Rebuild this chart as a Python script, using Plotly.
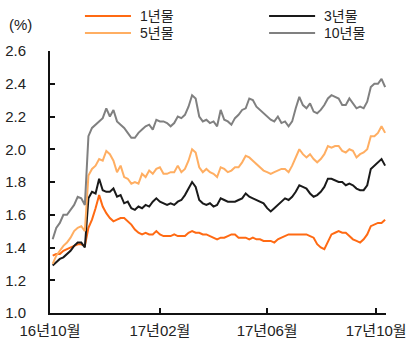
import pandas as pd
import plotly.graph_objects as go

# Observation dates: every 4 days from early Oct 2016 to mid Oct 2017
dates = pd.date_range("2016-10-04", periods=94, freq="4D")

# Treasury yields (%)
y1 = [1.35, 1.36, 1.36, 1.38, 1.39, 1.40, 1.41, 1.42, 1.42, 1.41,
      1.52, 1.57, 1.64, 1.72, 1.65, 1.61, 1.58, 1.56, 1.57, 1.58,
      1.58, 1.56, 1.54, 1.51, 1.49, 1.48, 1.49, 1.48, 1.48, 1.50,
      1.48, 1.47, 1.47, 1.47, 1.48, 1.47, 1.47, 1.47, 1.49, 1.50,
      1.49, 1.49, 1.48, 1.48, 1.47, 1.46, 1.45, 1.46, 1.46, 1.47,
      1.48, 1.48, 1.46, 1.46, 1.46, 1.45, 1.46, 1.45, 1.45, 1.44,
      1.44, 1.44, 1.43, 1.45, 1.46, 1.47, 1.48, 1.48, 1.48, 1.48,
      1.48, 1.48, 1.47, 1.46, 1.42, 1.40, 1.39, 1.44, 1.48, 1.49,
      1.50, 1.49, 1.49, 1.47, 1.45, 1.44, 1.43, 1.45, 1.48, 1.53,
      1.54, 1.55, 1.55, 1.57]

y3 = [1.29, 1.31, 1.33, 1.34, 1.36, 1.38, 1.41, 1.43, 1.43, 1.40,
      1.70, 1.74, 1.73, 1.82, 1.75, 1.74, 1.74, 1.76, 1.71, 1.72,
      1.67, 1.68, 1.64, 1.63, 1.65, 1.64, 1.66, 1.65, 1.68, 1.70,
      1.68, 1.67, 1.66, 1.67, 1.66, 1.68, 1.69, 1.72, 1.76, 1.80,
      1.77, 1.69, 1.67, 1.66, 1.67, 1.65, 1.66, 1.70, 1.69, 1.68,
      1.68, 1.68, 1.69, 1.70, 1.73, 1.71, 1.70, 1.69, 1.68, 1.67,
      1.64, 1.62, 1.64, 1.66, 1.68, 1.70, 1.69, 1.71, 1.74, 1.78,
      1.77, 1.76, 1.73, 1.71, 1.72, 1.74, 1.77, 1.82, 1.82, 1.81,
      1.80, 1.80, 1.78, 1.79, 1.78, 1.76, 1.75, 1.75, 1.78, 1.88,
      1.90, 1.92, 1.94, 1.90]

y5 = [1.30, 1.35, 1.38, 1.41, 1.43, 1.46, 1.50, 1.52, 1.53, 1.50,
      1.84, 1.88, 1.90, 1.94, 1.93, 1.99, 1.97, 1.93, 1.86, 1.90,
      1.83, 1.82, 1.79, 1.80, 1.79, 1.85, 1.83, 1.87, 1.85, 1.88,
      1.89, 1.85, 1.85, 1.86, 1.86, 1.90, 1.86, 1.88, 1.93, 2.00,
      1.98, 1.89, 1.86, 1.88, 1.86, 1.85, 1.83, 1.89, 1.88, 1.86,
      1.87, 1.89, 1.89, 1.92, 1.96, 1.95, 1.93, 1.91, 1.89, 1.87,
      1.86, 1.85, 1.86, 1.87, 1.88, 1.88, 1.86, 1.90, 1.95, 2.00,
      1.97, 1.95, 1.97, 1.94, 1.92, 1.94, 1.97, 2.02, 2.01, 2.02,
      2.02, 1.99, 1.98, 2.00, 1.99, 1.95, 1.97, 1.98, 2.00, 2.08,
      2.08, 2.10, 2.14, 2.10]

y10 = [1.45, 1.52, 1.55, 1.60, 1.60, 1.63, 1.66, 1.71, 1.70, 1.66,
       2.08, 2.13, 2.15, 2.17, 2.19, 2.25, 2.20, 2.24, 2.17, 2.15,
       2.13, 2.10, 2.07, 2.07, 2.10, 2.12, 2.14, 2.15, 2.12, 2.18,
       2.17, 2.17, 2.16, 2.14, 2.16, 2.20, 2.19, 2.21, 2.26, 2.33,
       2.31, 2.20, 2.17, 2.18, 2.16, 2.17, 2.14, 2.24, 2.18, 2.17,
       2.15, 2.19, 2.21, 2.24, 2.25, 2.31, 2.30, 2.26, 2.24, 2.22,
       2.20, 2.18, 2.17, 2.20, 2.16, 2.17, 2.14, 2.17, 2.25, 2.32,
       2.27, 2.25, 2.28, 2.23, 2.22, 2.24, 2.27, 2.31, 2.33, 2.32,
       2.31, 2.27, 2.27, 2.31, 2.28, 2.25, 2.26, 2.25, 2.29, 2.38,
       2.40, 2.40, 2.43, 2.38]

series_names = ["1년물", "3년물", "5년물", "10년물"]
series_values = [y1, y3, y5, y10]
series_colors = ["#FF6A13", "#1A1A1A", "#FFAE62", "#808080"]

tick_dates = ["2016-10-01", "2017-02-01", "2017-06-01", "2017-10-01"]
tick_text = ["16년10월", "17년02월", "17년06월", "17년10월"]
y_ticks = [1.0, 1.2, 1.4, 1.6, 1.8, 2.0, 2.2, 2.4, 2.6]

FONT = "Liberation Sans, Arial, Noto Sans CJK KR, sans-serif"
TEXT_COLOR = "#222222"

fig = go.Figure()
for name, vals, color in zip(series_names, series_values, series_colors):
    fig.add_trace(go.Scatter(
        x=dates, y=vals, name=name, mode="lines",
        line=dict(color=color, width=2),
    ))

# Two-column key above the plot: (column, row) slot for each series
key_slots = [(0, 0), (1, 0), (0, 1), (1, 1)]
key_col_x = [0.104, 0.652]      # line-sample start, paper fraction
key_row_y = [1.134, 1.069]      # row centre, paper fraction
key_line_len = 0.137
key_gap = 0.021

shapes = []
annotations = []
for (col, row), name, color in zip(key_slots, series_names, series_colors):
    x0 = key_col_x[col]
    yy = key_row_y[row]
    shapes.append(dict(
        type="line", xref="paper", yref="paper",
        x0=x0, x1=x0 + key_line_len, y0=yy, y1=yy,
        line=dict(color=color, width=2),
    ))
    annotations.append(dict(
        text=name, xref="paper", yref="paper",
        x=x0 + key_line_len + key_gap, y=yy,
        xanchor="left", yanchor="middle", showarrow=False,
        font=dict(size=14, color=TEXT_COLOR),
    ))

annotations.append(dict(
    text="(%)", xref="paper", yref="paper",
    x=-0.088, y=1.102, xanchor="center", yanchor="middle",
    showarrow=False, font=dict(size=15, color=TEXT_COLOR),
))

fig.update_layout(
    width=409, height=344,
    margin=dict(l=50, r=23, t=51, b=31, autoexpand=False),
    paper_bgcolor="white", plot_bgcolor="white",
    font=dict(family=FONT, size=15, color=TEXT_COLOR),
    showlegend=False,
    shapes=shapes,
    annotations=annotations,
    xaxis=dict(
        range=["2016-10-01", "2017-10-12"],
        tickmode="array", tickvals=tick_dates, ticktext=tick_text,
        ticks="inside", ticklen=5, tickwidth=1.5, tickcolor="#111111",
        showline=True, linecolor="#111111", linewidth=2,
        showgrid=False, zeroline=False,
        ticklabelstandoff=3,
        tickfont=dict(size=15),
        automargin=False,
    ),
    yaxis=dict(
        range=[1.0, 2.6],
        tickmode="array", tickvals=y_ticks,
        ticktext=[f"{v:.1f}" for v in y_ticks],
        ticks="inside", ticklen=5, tickwidth=1.5, tickcolor="#111111",
        showline=True, linecolor="#111111", linewidth=2,
        showgrid=False, zeroline=False,
        ticklabelstandoff=19,
        tickfont=dict(size=15),
        automargin=False,
    ),
)

fig.write_html("out.html")
